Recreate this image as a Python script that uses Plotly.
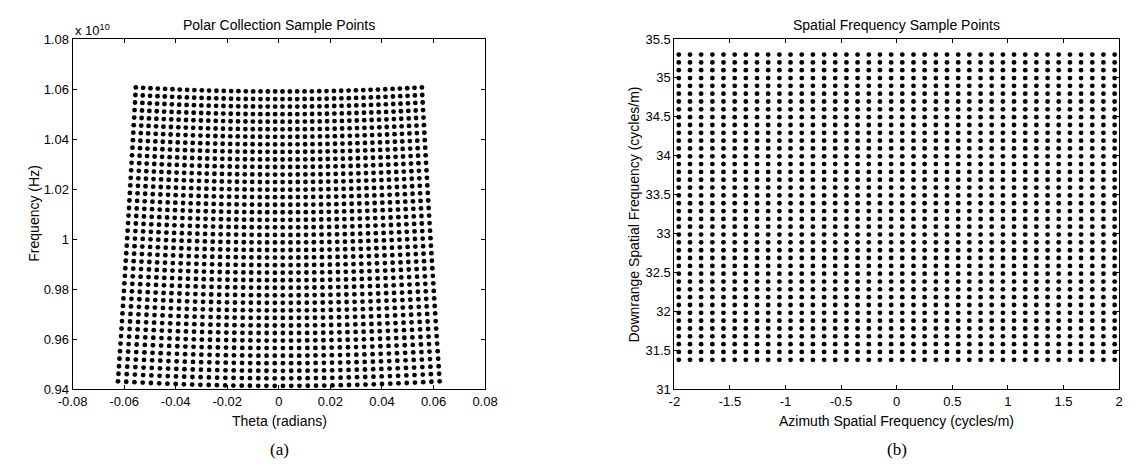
import numpy as np
import plotly.graph_objects as go

# Rectangular spatial-frequency grid (cycles/m)
azimuth_k = [
    -1.960, -1.859, -1.759, -1.658, -1.558, -1.457, -1.357, -1.256, -1.156, -1.055,
    -0.955, -0.854, -0.754, -0.653, -0.553, -0.452, -0.352, -0.251, -0.151, -0.050,
    0.050, 0.151, 0.251, 0.352, 0.452, 0.553, 0.653, 0.754, 0.854, 0.955,
    1.055, 1.156, 1.256, 1.357, 1.457, 1.558, 1.658, 1.759, 1.859, 1.960,
]
downrange_k = [
    31.380, 31.481, 31.581, 31.682, 31.782, 31.883, 31.983, 32.084, 32.184, 32.285,
    32.385, 32.486, 32.586, 32.687, 32.787, 32.888, 32.988, 33.089, 33.189, 33.290,
    33.390, 33.491, 33.591, 33.692, 33.792, 33.893, 33.993, 34.094, 34.194, 34.295,
    34.395, 34.496, 34.596, 34.697, 34.797, 34.898, 34.998, 35.099, 35.199, 35.300,
]

LIGHT_SPEED = 3e8  # m/s
FREQ_SCALE = 1e10  # frequency axis is shown in units of 10^10 Hz

# Axis tick labels
theta_ticks = [-0.08, -0.06, -0.04, -0.02, 0, 0.02, 0.04, 0.06, 0.08]
theta_labels = ["-0.08", "-0.06", "-0.04", "-0.02", "0", "0.02", "0.04", "0.06", "0.08"]
freq_ticks = [0.94, 0.96, 0.98, 1.0, 1.02, 1.04, 1.06, 1.08]
freq_labels = ["0.94", "0.96", "0.98", "1", "1.02", "1.04", "1.06", "1.08"]
az_ticks = [-2, -1.5, -1, -0.5, 0, 0.5, 1, 1.5, 2]
az_labels = ["-2", "-1.5", "-1", "-0.5", "0", "0.5", "1", "1.5", "2"]
dr_ticks = [31, 31.5, 32, 32.5, 33, 33.5, 34, 34.5, 35, 35.5]
dr_labels = ["31", "31.5", "32", "32.5", "33", "33.5", "34", "34.5", "35", "35.5"]

# Grid points and their polar (angle, frequency) equivalents
KX, KY = np.meshgrid(np.array(azimuth_k), np.array(downrange_k))
theta = np.arctan2(KX, KY)
freq = LIGHT_SPEED * np.hypot(KX, KY) / FREQ_SCALE

W, H = 1136, 470
FONT = "Liberation Sans, Arial, sans-serif"
SERIF = "Liberation Serif, Times New Roman, serif"

def px(x):
    return x / W

def py(y):
    return 1 - y / H

left_dom = [px(59), px(482)]
right_dom = [px(676), px(1132)]
y_dom = [py(395), py(33)]

fig = go.Figure()
marker = dict(color="black", size=4.8, symbol="circle", line=dict(width=0))
fig.add_trace(go.Scatter(x=theta.ravel(), y=freq.ravel(), mode="markers",
                         marker=marker, xaxis="x", yaxis="y", showlegend=False))
fig.add_trace(go.Scatter(x=KX.ravel(), y=KY.ravel(), mode="markers",
                         marker=marker, xaxis="x2", yaxis="y2", showlegend=False))

axis_common = dict(
    showgrid=False, zeroline=False, showline=True, linecolor="black", linewidth=1,
    mirror="allticks", ticks="inside", ticklen=4, tickcolor="black", tickwidth=1,
    tickfont=dict(family=FONT, size=13, color="black"), tickmode="array",
)

fig.update_layout(
    width=W, height=H,
    margin=dict(l=0, r=0, t=0, b=0),
    paper_bgcolor="white", plot_bgcolor="white",
    xaxis=dict(domain=left_dom, range=[-0.08, 0.08], tickvals=theta_ticks,
               ticktext=theta_labels, anchor="y", **axis_common),
    yaxis=dict(domain=y_dom, range=[0.94, 1.08], tickvals=freq_ticks,
               ticktext=freq_labels, anchor="x", **axis_common),
    xaxis2=dict(domain=right_dom, range=[-2, 2], tickvals=az_ticks,
                ticktext=az_labels, anchor="y2", **axis_common),
    yaxis2=dict(domain=y_dom, range=[31, 35.5], tickvals=dr_ticks,
                ticktext=dr_labels, anchor="x2", **axis_common),
)

def note(text, x, y, size=14, angle=0, family=FONT, xanchor="center", yanchor="middle"):
    fig.add_annotation(text=text, x=px(x), y=py(y), xref="paper", yref="paper",
                       showarrow=False, textangle=angle, xanchor=xanchor,
                       yanchor=yanchor, font=dict(family=family, size=size, color="black"))

# Titles
note("Polar Collection Sample Points", 271, 19)
note("Spatial Frequency Sample Points", 904, 19)
# Axis titles
note("Theta (radians)", 271, 428)
note("Frequency (Hz)", 20, 214, angle=-90)
note("Azimuth Spatial Frequency (cycles/m)", 904, 428)
note("Downrange Spatial Frequency (cycles/m)", 635, 214, angle=-90)
# Exponent label for frequency axis
note("x 10<sup>10</sup>", 59, 24, size=13, xanchor="left")
# Panel labels
note("(a)", 271, 457, size=17, family=SERIF)
note("(b)", 904, 457, size=17, family=SERIF)

fig.write_html("out.html")
